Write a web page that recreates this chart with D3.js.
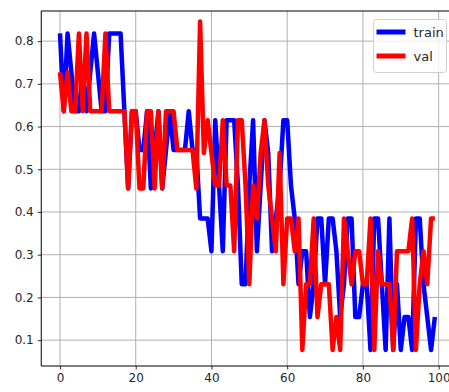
<!DOCTYPE html>
<html>
<head>
<meta charset="utf-8">
<script src="https://cdn.jsdelivr.net/npm/d3@7"></script>
<style>
  body { margin: 0; background: #fff; }
  svg { display: block; font-family: "DejaVu Sans", sans-serif; }
</style>
</head>
<body>
<div id="chart"></div>
<script>
// epoch index 0..99
const epochs = d3.range(100);

const trainAcc = [
  0.818, 0.636, 0.818, 0.727, 0.636, 0.636, 0.727, 0.636, 0.727, 0.818,
  0.727, 0.636, 0.636, 0.818, 0.818, 0.818, 0.818, 0.636, 0.455, 0.636,
  0.636, 0.545, 0.545, 0.636, 0.455, 0.545, 0.636, 0.455, 0.545, 0.636,
  0.545, 0.545, 0.545, 0.545, 0.636, 0.545, 0.545, 0.385, 0.385, 0.385,
  0.308, 0.615, 0.462, 0.308, 0.615, 0.615, 0.615, 0.462, 0.231, 0.231,
  0.462, 0.615, 0.308, 0.462, 0.615, 0.538, 0.308, 0.385, 0.462, 0.615,
  0.615, 0.462, 0.385, 0.231, 0.308, 0.308, 0.154, 0.231, 0.385, 0.385,
  0.231, 0.385, 0.385, 0.308, 0.154, 0.231, 0.385, 0.385, 0.154, 0.154,
  0.231, 0.231, 0.077, 0.385, 0.385, 0.231, 0.077, 0.385, 0.077, 0.231,
  0.077, 0.154, 0.154, 0.077, 0.385, 0.385, 0.231, 0.154, 0.077, 0.154
];

const valAcc = [
  0.727, 0.636, 0.727, 0.636, 0.636, 0.818, 0.636, 0.818, 0.636, 0.636,
  0.636, 0.636, 0.818, 0.636, 0.636, 0.636, 0.636, 0.636, 0.455, 0.636,
  0.636, 0.455, 0.455, 0.636, 0.636, 0.455, 0.636, 0.455, 0.636, 0.636,
  0.636, 0.545, 0.545, 0.545, 0.545, 0.545, 0.455, 0.846, 0.538, 0.615,
  0.538, 0.462, 0.462, 0.615, 0.462, 0.462, 0.308, 0.615, 0.615, 0.462,
  0.231, 0.462, 0.385, 0.538, 0.615, 0.462, 0.385, 0.308, 0.538, 0.231,
  0.385, 0.385, 0.308, 0.385, 0.077, 0.231, 0.231, 0.385, 0.154, 0.231,
  0.231, 0.231, 0.077, 0.154, 0.077, 0.385, 0.308, 0.231, 0.308, 0.308,
  0.231, 0.231, 0.385, 0.077, 0.308, 0.231, 0.231, 0.231, 0.077, 0.308,
  0.308, 0.308, 0.308, 0.385, 0.077, 0.231, 0.308, 0.231, 0.385, 0.385
];

const xTicks = [0, 20, 40, 60, 80, 100];
const yTicks = [0.1, 0.2, 0.3, 0.4, 0.5, 0.6, 0.7, 0.8];
const seriesNames = ['train', 'val'];
const seriesColors = ['#0000ff', '#ff0000'];

const dims = { width: 449, height: 392, left: 41.25, top: 11, plotW: 412.35, plotH: 355 };

const svg = d3.select('#chart').append('svg')
  .attr('width', dims.width)
  .attr('height', dims.height);

const ctr = svg.append('g')
  .attr('transform', `translate(${dims.left}, ${dims.top})`);

const xScale = d3.scaleLinear().domain([-4.95, 103.95]).range([0, dims.plotW]);
const yScale = d3.scaleLinear().domain([0.0395, 0.8705]).range([dims.plotH, 0]);

// grid
ctr.append('g').selectAll('line.vg')
  .data(xTicks)
  .join('line')
  .attr('x1', d => xScale(d)).attr('x2', d => xScale(d))
  .attr('y1', 0).attr('y2', dims.plotH)
  .attr('stroke', '#b0b0b0').attr('stroke-width', 1);

ctr.append('g').selectAll('line.hg')
  .data(yTicks)
  .join('line')
  .attr('x1', 0).attr('x2', dims.plotW)
  .attr('y1', d => yScale(d)).attr('y2', d => yScale(d))
  .attr('stroke', '#b0b0b0').attr('stroke-width', 1);

// lines
const line = d3.line()
  .x((d, i) => xScale(epochs[i]))
  .y(d => yScale(d));

[trainAcc, valAcc].forEach((series, k) => {
  ctr.append('path')
    .datum(series)
    .attr('d', line)
    .attr('fill', 'none')
    .attr('stroke', seriesColors[k])
    .attr('stroke-width', 4.5)
    .attr('stroke-linejoin', 'round');
});

// axes
const xAxis = d3.axisBottom(xScale).tickValues(xTicks).tickSize(3.5).tickPadding(4).tickFormat(d3.format('d'));
const yAxis = d3.axisLeft(yScale).tickValues(yTicks).tickSize(3.5).tickPadding(4).tickFormat(d3.format('.1f'));

const xg = ctr.append('g')
  .attr('transform', `translate(0, ${dims.plotH})`)
  .call(xAxis);
const yg = ctr.append('g').call(yAxis);

[xg, yg].forEach(g => {
  g.select('.domain').remove();
  g.selectAll('.tick line').attr('stroke', '#000').attr('stroke-width', 0.8);
  g.selectAll('.tick text')
    .attr('fill', '#262626')
    .style('font-size', '12px')
    .style('font-family', '"DejaVu Sans", sans-serif');
});

// spines
ctr.append('line').attr('x1', 0).attr('x2', 0).attr('y1', 0).attr('y2', dims.plotH)
  .attr('stroke', '#000').attr('stroke-width', 1);
ctr.append('line').attr('x1', 0).attr('x2', dims.plotW).attr('y1', dims.plotH).attr('y2', dims.plotH)
  .attr('stroke', '#000').attr('stroke-width', 1);
ctr.append('line').attr('x1', 0).attr('x2', dims.plotW).attr('y1', 0).attr('y2', 0)
  .attr('stroke', '#000').attr('stroke-width', 1);

// legend
const legend = svg.append('g').attr('transform', 'translate(373.5, 19.5)');
legend.append('rect')
  .attr('width', 73).attr('height', 53).attr('rx', 3)
  .attr('fill', '#fff').attr('fill-opacity', 0.8)
  .attr('stroke', '#d0d0d0').attr('stroke-width', 1);

seriesNames.forEach((name, k) => {
  const y = 12.5 + k * 24;
  legend.append('line')
    .attr('x1', 3).attr('x2', 32).attr('y1', y).attr('y2', y)
    .attr('stroke', seriesColors[k]).attr('stroke-width', 5);
  legend.append('text')
    .attr('x', 40).attr('y', y + 4.5)
    .attr('fill', '#262626')
    .style('font-size', '13px')
    .text(name);
});
</script>
</body>
</html>
